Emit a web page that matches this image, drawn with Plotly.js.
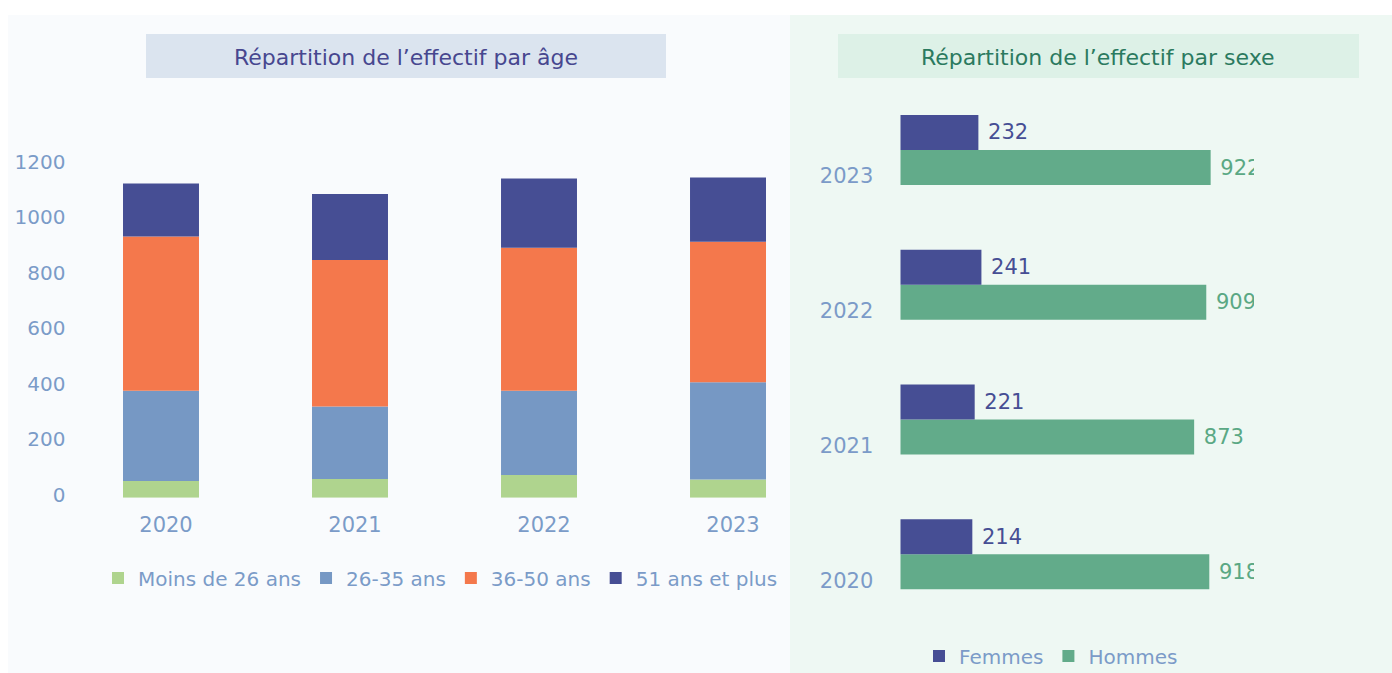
<!DOCTYPE html>
<html>
<head>
<meta charset="utf-8">
<script src="https://cdn.plot.ly/plotly-3.0.1.min.js"></script>
<style>html,body{margin:0;padding:0;background:#fff;overflow:hidden;}#chart{width:1392px;height:673px;}</style>
</head>
<body>
<div id="chart"></div>
<script>
// ---- Data ----
const years = ['2020', '2021', '2022', '2023'];
const ageLabels = ['Moins de 26 ans', '26-35 ans', '36-50 ans', '51 ans et plus'];
const moins26 = [60, 67, 82, 66];
const age26_35 = [325, 262, 303, 350];
const age36_50 = [556, 528, 516, 506];
const age51plus = [191, 237, 249, 232];
const femmes = [214, 221, 241, 232];
const hommes = [918, 873, 909, 922];
const yTicks = [0, 200, 400, 600, 800, 1000, 1200];

// ---- Styles ----
const W = 1392, H = 673;
const px = v => v / W;
const py = v => (H - v) / H;
const FONT = '"DejaVu Sans", "Open Sans", sans-serif';
const tickColor = '#7b9bc8';
const ageColors = ['#afd48e', '#7698c4', '#f4784c', '#464e94'];
const femColor = '#464e94', homColor = '#62ab8a';

const series = [moins26, age26_35, age36_50, age51plus];
const traces = [];
let base = years.map(() => 0);
series.forEach((vals, i) => {
  traces.push({
    type: 'bar', x: years, y: vals, base: base.slice(),
    name: ageLabels[i], marker: {color: ageColors[i], line: {width: 0}},
    width: 0.402, offset: -0.201,
    xaxis: 'x', yaxis: 'y', legend: 'legend', hoverinfo: 'x+y+name'
  });
  base = base.map((b, j) => b + vals[j]);
});

traces.push({
  type: 'bar', orientation: 'h', y: years, x: hommes, name: 'Hommes',
  marker: {color: homColor, line: {width: 0}},
  texttemplate: ' %{x}', textposition: 'outside',
  textfont: {color: '#5aa884', size: 21, family: FONT},
  cliponaxis: true, constraintext: 'none',
  xaxis: 'x2', yaxis: 'y2', legend: 'legend2', legendrank: 2
});
traces.push({
  type: 'bar', orientation: 'h', y: years, x: femmes, name: 'Femmes',
  marker: {color: femColor, line: {width: 0}},
  texttemplate: ' %{x}', textposition: 'outside',
  textfont: {color: femColor, size: 21, family: FONT},
  cliponaxis: true, constraintext: 'none',
  xaxis: 'x2', yaxis: 'y2', legend: 'legend2', legendrank: 1
});

const layout = {
  width: W, height: H,
  margin: {l: 0, r: 0, t: 0, b: 0, autoexpand: false},
  paper_bgcolor: '#ffffff', plot_bgcolor: 'rgba(0,0,0,0)',
  font: {family: FONT, color: tickColor, size: 21},
  barmode: 'group', bargap: 0.48, bargroupgap: 0,
  showlegend: true,
  xaxis: {
    domain: [px(66.5), px(790)], type: 'category', range: [-0.5, 3.328],
    showgrid: false, zeroline: false, showline: false, ticks: '',
    tickfont: {size: 21, color: tickColor}, ticklabelstandoff: 12, ticklabelshift: 5,
    fixedrange: true
  },
  yaxis: {
    domain: [py(497.7), py(497.7 - 1250 * 0.2775)], range: [0, 1250],
    tickvals: yTicks, showgrid: false, zeroline: false, showline: false, ticks: '',
    tickfont: {size: 20, color: tickColor}, ticklabelshift: -3, fixedrange: true
  },
  xaxis2: {
    domain: [px(900.3), px(1254)], range: [0, (1254 - 900.3) / 0.3366], anchor: 'y2',
    visible: false, fixedrange: true
  },
  yaxis2: {
    domain: [py(554.3 + 67.4), py(150 - 67.4)], range: [-0.5, 3.5], type: 'category',
    anchor: 'x2', showgrid: false, zeroline: false, showline: false, ticks: '',
    tickfont: {size: 21, color: tickColor}, ticklabelshift: 26, ticklabelstandoff: 26,
    fixedrange: true
  },
  legend: {
    orientation: 'h', x: px(98), xanchor: 'left', y: py(578), yanchor: 'middle',
    font: {size: 20, color: tickColor, family: FONT}, bgcolor: 'rgba(0,0,0,0)',
    traceorder: 'normal', itemclick: false, itemdoubleclick: false
  },
  legend2: {
    orientation: 'h', x: px(1051), xanchor: 'center', y: py(656), yanchor: 'middle',
    font: {size: 20, color: tickColor, family: FONT}, bgcolor: 'rgba(0,0,0,0)',
    itemclick: false, itemdoubleclick: false
  },
  shapes: [
    {type: 'rect', xref: 'paper', yref: 'paper', x0: px(8), x1: px(790), y0: 0, y1: py(15),
     fillcolor: '#f9fbfd', line: {width: 0}, layer: 'below'},
    {type: 'rect', xref: 'paper', yref: 'paper', x0: px(790), x1: px(1392), y0: 0, y1: py(15),
     fillcolor: '#eef8f3', line: {width: 0}, layer: 'below'},
    {type: 'rect', xref: 'paper', yref: 'paper', x0: px(146), x1: px(666), y0: py(78), y1: py(34),
     fillcolor: '#dbe4ef', line: {width: 0}, layer: 'below'},
    {type: 'rect', xref: 'paper', yref: 'paper', x0: px(838), x1: px(1359), y0: py(78), y1: py(34),
     fillcolor: '#ddf1e7', line: {width: 0}, layer: 'below'}
  ],
  annotations: [
    {xref: 'paper', yref: 'paper', x: px(406), y: py(57), xanchor: 'center', yanchor: 'middle',
     text: 'Répartition de l’effectif par âge', showarrow: false,
     font: {size: 22, color: '#47478f', family: FONT}},
    {xref: 'paper', yref: 'paper', x: px(1098), y: py(57), xanchor: 'center', yanchor: 'middle',
     text: 'Répartition de l’effectif par sexe', showarrow: false,
     font: {size: 22, color: '#2b7a5f', family: FONT}}
  ]
};

Plotly.newPlot('chart', traces, layout, {displayModeBar: false});
</script>
</body>
</html>
